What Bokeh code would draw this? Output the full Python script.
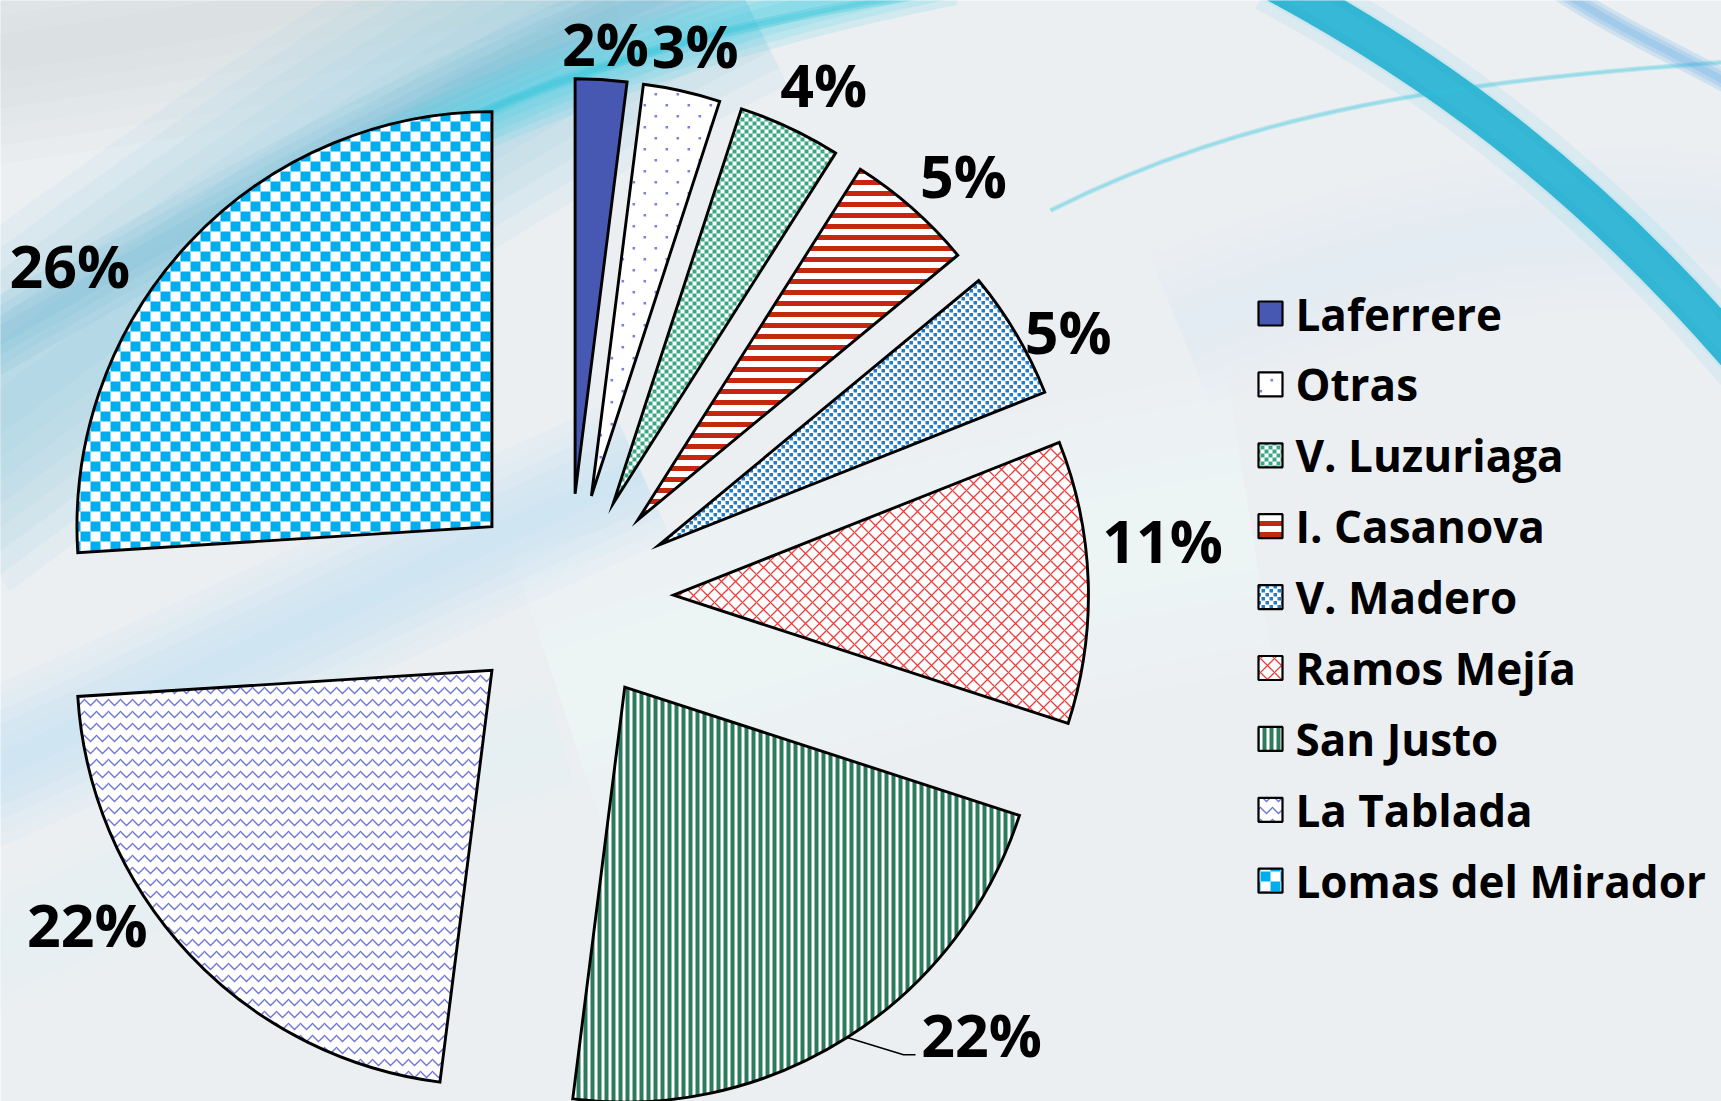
import math
from bokeh.plotting import figure
from bokeh.models import Range1d
from bokeh.core.properties import value
from bokeh.embed import file_html
from bokeh.resources import INLINE

# ---------------- data ----------------
categories = ["Laferrere", "Otras", "V. Luzuriaga", "I. Casanova", "V. Madero",
              "Ramos Mejía", "San Justo", "La Tablada", "Lomas del Mirador"]
shares = [2, 3, 4, 5, 5, 11, 22, 22, 26]

# ---------------- layout ----------------
W, H = 1721, 1101


def dx(x):  # picture pixel -> data x
    return x


def dy(y):  # picture pixel -> data y (y up)
    return H - y


CX, CY = 568, 598        # pie centre (picture px)
R = 415                  # radius
EXPLODE = 105            # explosion distance
FONT = value("Open Sans")

# style of every slice: built-in hatch or custom tile texture
styles = [
    dict(fill="#4658b2"),
    dict(fill="white", tex=("dots", 22, 2.6, [(5, 5), (16, 16)]), tcolor="#7c82e2"),
    dict(fill="white", tex=("checker", 4), tcolor="#3aa882"),
    dict(fill="white", hatch="horizontal_line", hcolor="#c4290f", scale=11, weight=5),
    dict(fill="white", tex=("dots", 8, 3.5, [(1, 1), (5, 5)]), tcolor="#1a7ed2"),
    dict(fill="white", hatch="diagonal_cross", hcolor="#f43a3a", scale=14, weight=1.3),
    dict(fill="white", hatch="vertical_line", hcolor="#2b7b5c", scale=7, weight=4),
    dict(fill="white", hatch="horizontal_wave", hcolor="#7078cc", scale=12, weight=1.4),
    dict(fill="white", tex=("checker", 10), tcolor="#00aeef"),
]

# label placement (angle shift from bisector in degrees, distance from centre)
label_shift = [0.2, 0.3, 1.2, 1.6, 2.4, -3.8, -11.1, 9.1, -9.4]
label_dist = [557, 568, 574, 579, 567, 597, 600, 581, 600]

p = figure(width=W, height=H, x_range=Range1d(0, W), y_range=Range1d(0, H),
           output_backend="svg", toolbar_location=None, min_border=0,
           x_axis_location=None, y_axis_location=None)
p.grid.visible = False
p.outline_line_color = None
p.background_fill_color = "#eceff2"
p.border_fill_color = "#eceff2"


# ---------------- background decoration (soft bands) ----------------
def band(pts, width, color, alpha, steps=1, cap="butt"):
    (x0, y0), (c0x, c0y), (c1x, c1y), (x1, y1) = pts
    for k in range(steps):
        wk = width * (steps - k) / steps
        p.bezier(x0=[dx(x0)], y0=[dy(y0)], x1=[dx(x1)], y1=[dy(y1)],
                 cx0=[dx(c0x)], cy0=[dy(c0y)], cx1=[dx(c1x)], cy1=[dy(c1y)],
                 line_width=wk, line_color=color, line_alpha=alpha / steps, line_cap=cap)


band([(-200, 80), (100, 40), (300, 10), (600, -60)], 220, "#c9d3da", 0.6, 6)
band([(-80, 470), (150, 300), (380, 120), (720, -50)], 300, "#8cc8de", 0.75, 8)
band([(-80, 380), (150, 250), (380, 110), (720, -30)], 70, "#5aaed0", 0.4, 4)
band([(-80, 800), (150, 700), (350, 600), (640, 470)], 150, "#a9dfee", 0.5, 6)
band([(-80, 980), (150, 880), (350, 800), (560, 740)], 120, "#e2f1f5", 0.5, 4)
band([(360, 170), (520, 90), (700, 20), (950, -30)], 70, "#38cde0", 0.7, 5)
band([(430, 135), (600, 55), (760, 15), (980, -15)], 10, "#22c0d8", 0.5, 2)
band([(560, 700), (800, 620), (1000, 560), (1250, 520)], 300, "#f8fafb", 0.5, 6)
band([(1180, 330), (1400, 240), (1600, 200), (1800, 250)], 160, "#d8eef2", 0.5, 5)
band([(1270, -20), (1420, 60), (1580, 170), (1750, 370)], 38, "#12a9cc", 0.9, 1)
band([(1270, -20), (1420, 60), (1580, 170), (1750, 370)], 64, "#5ccde4", 0.35, 3)
band([(1050, 210), (1250, 110), (1450, 80), (1750, 60)], 5, "#2cc3dc", 0.5, 2)
band([(1560, -10), (1620, 30), (1690, 60), (1750, 95)], 22, "#4aa4e4", 0.55, 3)


# ---------------- texture helpers (clip small squares to a convex shape) ----------------
def cross(ax, ay, bx, by):
    return ax * by - ay * bx


def clip_poly(subject, clipper):
    out = subject
    n = len(clipper)
    for i in range(n):
        ax, ay = clipper[i]
        bx, by = clipper[(i + 1) % n]
        ex, ey = bx - ax, by - ay
        inp = out
        out = []
        if not inp:
            break
        sx, sy = inp[-1]
        ds = cross(ex, ey, sx - ax, sy - ay)
        for (qx, qy) in inp:
            dq = cross(ex, ey, qx - ax, qy - ay)
            if dq >= 0:
                if ds < 0:
                    t = ds / (ds - dq)
                    out.append((sx + t * (qx - sx), sy + t * (qy - sy)))
                out.append((qx, qy))
            elif ds >= 0:
                t = ds / (ds - dq)
                out.append((sx + t * (qx - sx), sy + t * (qy - sy)))
            sx, sy, ds = qx, qy, dq
    return out


def squares(tex, x0, y0, x1, y1):
    if tex[0] == "checker":
        c = tex[1]
        for i in range(int(math.floor(x0 / c)), int(math.ceil(x1 / c)) + 1):
            for j in range(int(math.floor(y0 / c)), int(math.ceil(y1 / c)) + 1):
                if (i + j) % 2 == 0:
                    yield (i * c, j * c, c)
    else:
        _, n, sz, offs = tex
        for i in range(int(math.floor(x0 / n)) - 1, int(math.ceil(x1 / n)) + 1):
            for j in range(int(math.floor(y0 / n)) - 1, int(math.ceil(y1 / n)) + 1):
                for ox, oy in offs:
                    yield (i * n + ox, j * n + oy, sz)


def texture_patches(tex, clipper, inside):
    xs_ = [q[0] for q in clipper]
    ys_ = [q[1] for q in clipper]
    bx0, bx1, by0, by1 = min(xs_), max(xs_), min(ys_), max(ys_)
    px, py = [], []
    for (x, y, s) in squares(tex, bx0, by0, bx1, by1):
        if x + s < bx0 or x > bx1 or y + s < by0 or y > by1:
            continue
        sq = [(x, y), (x + s, y), (x + s, y + s), (x, y + s)]
        if all(inside(a, b) for a, b in sq):
            poly = sq
        else:
            poly = clip_poly(sq, clipper)
            if len(poly) < 3:
                continue
        px.append([q[0] for q in poly])
        py.append([q[1] for q in poly])
    return px, py


def sector_clipper(ax, ay, th0, th1):
    n = max(4, int(math.degrees(th1 - th0) * 2))
    pts = [(ax, ay)]
    for k in range(n + 1):
        t = th0 + (th1 - th0) * k / n
        pts.append((ax + R * math.cos(t), ay + R * math.sin(t)))
    c0 = (math.cos(th0), math.sin(th0))
    c1 = (math.cos(th1), math.sin(th1))

    def inside(x, y):
        vx, vy = x - ax, y - ay
        return (vx * vx + vy * vy <= R * R * 0.998 and cross(c0[0], c0[1], vx, vy) >= 0
                and cross(vx, vy, c1[0], c1[1]) >= 0)
    return pts, inside


# ---------------- pie ----------------
total = float(sum(shares))
a0 = 0.0
arcs = []
for i, s in enumerate(shares):
    a1 = a0 + 360.0 * s / total
    bis = math.radians((a0 + a1) / 2)
    ux, uy = math.sin(bis), -math.cos(bis)   # picture direction (y down)
    ax_, ay_ = CX + EXPLODE * ux, CY + EXPLODE * uy
    th0, th1 = math.radians(90 - a1), math.radians(90 - a0)
    st = styles[i]
    base = dict(x=[dx(ax_)], y=[dy(ay_)], radius=R, start_angle=th0, end_angle=th1)
    kw = dict(base, fill_color=st["fill"], line_color=None)
    if "hatch" in st:
        kw.update(hatch_pattern=st["hatch"], hatch_color=st["hcolor"],
                  hatch_scale=st["scale"], hatch_weight=st["weight"])
    p.wedge(**kw)
    if "tex" in st:
        clipper, inside = sector_clipper(dx(ax_), dy(ay_), th0, th1)
        pxs, pys = texture_patches(st["tex"], clipper, inside)
        p.patches(xs=pxs, ys=pys, fill_color=st["tcolor"], line_color=None)
    p.wedge(**base, fill_alpha=0, line_color="black", line_width=2.9, line_join="miter")
    arcs.append((a0, a1, ax_, ay_, ux, uy))
    a0 = a1

# percent labels
for i, s in enumerate(shares):
    b0, b1 = arcs[i][0], arcs[i][1]
    ang = math.radians((b0 + b1) / 2 + label_shift[i])
    lx = CX + label_dist[i] * math.sin(ang)
    ly = CY - label_dist[i] * math.cos(ang)
    p.text(x=[dx(lx)], y=[dy(ly)], text=[f"{s}%"], text_font=FONT, text_font_style="bold",
           text_font_size="59px", text_align="center", text_baseline="middle", text_color="black")
    if i == 6:  # leader line for San Justo
        sx0 = arcs[i][2] + R * arcs[i][4]
        sy0 = arcs[i][3] + R * arcs[i][5]
        xs = [sx0, lx - 78, lx - 66]
        ys = [sy0, ly + 21, ly + 21]
        p.line(x=[dx(v) for v in xs], y=[dy(v) for v in ys], line_color="black", line_width=1.6)

# ---------------- legend ----------------
LX, LY0, LSTEP, MS = 1270, 313, 70.9, 24
for i, name in enumerate(categories):
    yy = LY0 + i * LSTEP
    st = styles[i]
    mx, my = dx(LX), dy(yy)
    kw = dict(x=[mx], y=[my], width=MS, height=MS, fill_color=st["fill"], line_color=None)
    if "hatch" in st:
        kw.update(hatch_pattern=st["hatch"], hatch_color=st["hcolor"],
                  hatch_scale=st["scale"], hatch_weight=st["weight"])
    p.rect(**kw)
    if "tex" in st:
        h2 = MS / 2
        box = [(mx - h2, my - h2), (mx + h2, my - h2), (mx + h2, my + h2), (mx - h2, my + h2)]

        def inbox(x, y, mx=mx, my=my, h2=h2):
            return abs(x - mx) <= h2 and abs(y - my) <= h2
        pxs, pys = texture_patches(st["tex"], box, inbox)
        p.patches(xs=pxs, ys=pys, fill_color=st["tcolor"], line_color=None)
    p.rect(x=[mx], y=[my], width=MS, height=MS, fill_alpha=0, line_color="black", line_width=2.2)
    p.text(x=[dx(LX + 25)], y=[dy(yy)], text=[name], text_font=FONT, text_font_style="bold",
           text_font_size="44px", text_align="left", text_baseline="middle", text_color="black")

open("out.html", "w").write(file_html(p, INLINE))
